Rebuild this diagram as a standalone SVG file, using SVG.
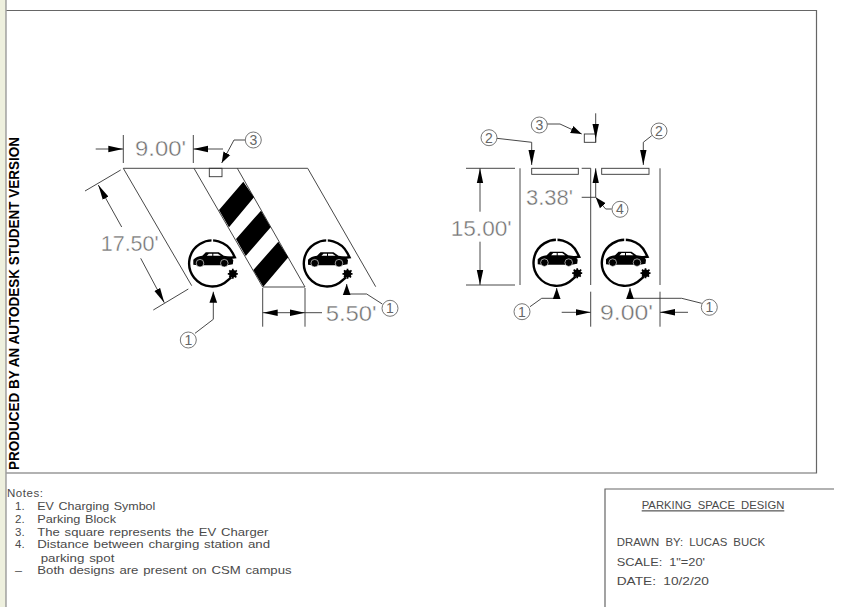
<svg xmlns="http://www.w3.org/2000/svg" width="842" height="607" viewBox="0 0 842 607">
<style>
.l{fill:none;stroke:#333;stroke-width:.9}
.f{fill:none;stroke:#666;stroke-width:1.2}
.a{fill:none;stroke:#333;stroke-width:.9;marker-end:url(#ah)}
.b{fill:none;stroke:#333;stroke-width:.9;marker-end:url(#af)}
.d{fill:none;stroke:#333;stroke-width:.9;marker-start:url(#ah);marker-end:url(#ah)}
.dim{font-family:"Liberation Sans",Arial,sans-serif;font-size:22px;fill:#707070;stroke:#fff;stroke-width:.4}
.n{font-family:"Liberation Sans",Arial,sans-serif;font-size:11.500px;fill:#4a4a4a;word-spacing:1px}
.t{font-family:"Liberation Sans",Arial,sans-serif;font-size:11.500px;fill:#4a4a4a;word-spacing:3px}
.c{fill:#fff;stroke:#666;stroke-width:.9}
.cn{font-family:"Liberation Sans",Arial,sans-serif;font-size:14px;fill:#666;text-anchor:middle}
</style>
<defs>
<marker id="ah" markerUnits="userSpaceOnUse" markerWidth="15" markerHeight="8" refX="14" refY="3" orient="auto-start-reverse" viewBox="0 0 14 6"><path d="M0,0L14,3L0,6Z" fill="#000"/></marker>
<marker id="af" markerUnits="userSpaceOnUse" markerWidth="11" markerHeight="9" refX="10" refY="3.500" orient="auto" viewBox="0 0 10 7"><path d="M0,0L10,3.500L0,7Z" fill="#000"/></marker>
<g id="ev">
<path d="M14,-5L22.500,-6L20.500,-10A23,23 0 1 0 16,16.500L19,14" fill="none" stroke="#000" stroke-width="2.400"/>
<path d="M-0.800,-25h1.600v3.800h-1.600z" fill="#fff"/>
<path d="M-19,1.500L-19,-3.500Q-16,-7 -10,-7.500L-6.500,-11L6.500,-11L11.500,-7.500L18.500,-6.500L21,-3L20.500,1L15,2L-15,2Z" fill="#000"/>
<path d="M-5.500,-7.500L-3.500,-9.600L0,-9.600L0,-7.500ZM1,-7.500L1,-9.600L5.500,-9.600L8.500,-7.500Z" fill="#fff"/>
<circle cx="-12.300" cy="-.1" r="3.800" fill="#000" stroke="#fff" stroke-width=".6"/>
<circle cx="12" cy="-.1" r="3.800" fill="#000" stroke="#fff" stroke-width=".6"/>
<circle cx="20.500" cy="10.500" r="3.800" fill="#000"/>
<path d="M17,7L24,14M24.500,7L17,14M20.500,5.500V15.500M15.500,10.500H25.500" stroke="#000" stroke-width="1.700"/>
</g>
</defs>
<rect width="842" height="607" fill="#fff"/>
<g id="panel">
<rect x="0" y="0" width="6" height="607" fill="#eef0de"/>
<path d="M6,0V607" stroke="#8a8a8a" stroke-width="1.200"/>
</g>
<g id="frame">
<path class="f" d="M6.500,10.500H816.500V473H6.500"/>
<path class="f" d="M834,489H605V607"/>
</g>
<text id="watermark" transform="translate(18.500,470) rotate(-90)" font-family="Liberation Sans,Arial,sans-serif" font-weight="700" font-size="14" fill="#000" textLength="333" lengthAdjust="spacingAndGlyphs">PRODUCED BY AN AUTODESK STUDENT VERSION</text>

<g id="angled-layout">
<path class="l" d="M123.300,168.300H307.700M123.300,168.300L191.700,285.700M194,168.300L262.700,287M237.300,168.300L305,287M307.700,168.300L375.700,286.700M262.700,287H305"/>
<path fill="#000" d="M243.300,181.700L254,197.300L229,227.300L219,210ZM261,210.700L270.700,227.300L245.700,256L236,239ZM278.300,241.700L288.300,257.300L263.300,286.700L253.300,270Z"/>
</g>
<rect id="charger-left" class="l" x="209.300" y="168.300" width="12.700" height="8.400"/>
<use id="ev-left-1" href="#ev" x="212.300" y="263.300"/>
<use id="ev-left-2" href="#ev" x="327" y="263.300"/>

<g id="straight-layout">
<path class="l" d="M520,168.300V285M590.700,168.300V285M660,168.300V285M590.700,291.700V326.700M660,291.700V326.700M466,168.300H515M466,285H515M581.700,168.300H590.700"/>
</g>
<rect id="block-1" class="l" x="531.700" y="168.300" width="46.600" height="6"/>
<rect id="block-2" class="l" x="601.700" y="168.300" width="47.300" height="6"/>
<rect id="charger-right" class="l" x="584.300" y="134" width="11.400" height="8.300"/>
<use id="ev-right-1" href="#ev" x="556.700" y="262.700"/>
<use id="ev-right-2" href="#ev" x="625" y="262.700"/>

<g id="connectors">
<path class="l" d="M123.300,135V163M193.300,135V163M85,191L120.700,170M153.300,310L188.300,289M262.700,288V326.700M305,288V326.700"/>
<path class="a" d="M95.700,149H123.300"/>
<path class="a" d="M223,149H193.300"/>
<path class="a" d="M121.700,227L98.300,185"/>
<path class="a" d="M140.700,258.300L164.300,302.700"/>
<path class="d" d="M262.700,312.700H305"/>
<path class="l" d="M305,312.700H322"/>
<path class="b" d="M245,140H234L221.700,163"/>
<path class="b" d="M195,333.300L213.300,319.300V291.700"/>
<path class="b" d="M382.300,304L366.700,294H346.700V284"/>
<path class="a" d="M480,211.700V168.300"/>
<path class="a" d="M480,241.700V285"/>
<path class="a" d="M561.700,312.300H590.700"/>
<path class="a" d="M688,312.300H660"/>
<path class="a" d="M595.700,197.300V168.300"/>
<path class="l" d="M581.700,197.300H595.700"/>
<path class="a" d="M595.700,113.300V139"/>
<path class="l" d="M595.700,139V142.300"/>
<path class="b" d="M547,124H560L581.700,134"/>
<path class="a" d="M496.700,138.300L531.700,142.300V165"/>
<path class="a" d="M651.700,135.700L643.300,142.300V165"/>
<path class="b" d="M611.700,209H605.700L595.700,197.300"/>
<path class="b" d="M530,306.700L541.700,298.300H556.700V288"/>
<path class="b" d="M701.700,303.300L681.700,298.300H630V288"/>
</g>

<g id="callouts">
<g id="c3a"><circle class="c" cx="253.300" cy="140" r="8"/><text class="cn" x="253.300" y="145">3</text></g>
<g id="c1a"><circle class="c" cx="188.300" cy="340" r="8"/><text class="cn" x="188.300" y="345">1</text></g>
<g id="c1b"><circle class="c" cx="390" cy="308.300" r="8"/><text class="cn" x="390" y="313.300">1</text></g>
<g id="c3b"><circle class="c" cx="539.300" cy="125" r="8"/><text class="cn" x="539.300" y="130">3</text></g>
<g id="c2a"><circle class="c" cx="489" cy="137.700" r="8"/><text class="cn" x="489" y="142.700">2</text></g>
<g id="c2b"><circle class="c" cx="659" cy="131" r="8"/><text class="cn" x="659" y="136">2</text></g>
<g id="c4"><circle class="c" cx="620" cy="209.300" r="8"/><text class="cn" x="620" y="214.300">4</text></g>
<g id="c1c"><circle class="c" cx="522" cy="311.700" r="8"/><text class="cn" x="522" y="316.700">1</text></g>
<g id="c1d"><circle class="c" cx="709.300" cy="307.300" r="8"/><text class="cn" x="709.300" y="312.300">1</text></g>
</g>

<g id="dimensions">
<text class="dim" x="135" y="156" textLength="51" lengthAdjust="spacingAndGlyphs">9.00'</text>
<text class="dim" x="100.700" y="251" textLength="58" lengthAdjust="spacingAndGlyphs">17.50'</text>
<text class="dim" x="325.700" y="320.500" textLength="51" lengthAdjust="spacingAndGlyphs">5.50'</text>
<text class="dim" x="450.700" y="235.500" textLength="61" lengthAdjust="spacingAndGlyphs">15.00'</text>
<text class="dim" x="526" y="204.500" textLength="47" lengthAdjust="spacingAndGlyphs">3.38'</text>
<text class="dim" x="600" y="320" textLength="53" lengthAdjust="spacingAndGlyphs">9.00'</text>
</g>

<g id="notes">
<text class="n" x="7" y="496.700" textLength="36" lengthAdjust="spacing">Notes:</text>
<text class="n" x="15" y="510">1.</text><text class="n" x="37.300" y="510" textLength="118" lengthAdjust="spacingAndGlyphs">EV Charging Symbol</text>
<text class="n" x="15" y="522.700">2.</text><text class="n" x="37.300" y="522.700" textLength="78.700" lengthAdjust="spacingAndGlyphs">Parking Block</text>
<text class="n" x="15" y="535.700">3.</text><text class="n" x="37.300" y="535.700" textLength="231" lengthAdjust="spacingAndGlyphs">The square represents the EV Charger</text>
<text class="n" x="15" y="548.300">4.</text><text class="n" x="37.300" y="548.300" textLength="232.700" lengthAdjust="spacingAndGlyphs">Distance between charging station and</text>
<text class="n" x="40.700" y="561.700" textLength="73.700" lengthAdjust="spacingAndGlyphs">parking spot</text>
<text class="n" x="15" y="574.300" textLength="7" lengthAdjust="spacingAndGlyphs">—</text><text class="n" x="37.300" y="574.300" textLength="254.300" lengthAdjust="spacingAndGlyphs">Both designs are present on CSM campus</text>
</g>

<g id="title-block">
<text class="t" x="641.700" y="509.300" textLength="142.600" lengthAdjust="spacingAndGlyphs" text-decoration="underline">PARKING SPACE DESIGN</text>
<text class="t" x="616.700" y="546" textLength="148.300" lengthAdjust="spacingAndGlyphs">DRAWN BY: LUCAS BUCK</text>
<text class="t" x="616.700" y="565.700" textLength="88.300" lengthAdjust="spacingAndGlyphs">SCALE: 1"=20'</text>
<text class="t" x="616.700" y="585" textLength="92.300" lengthAdjust="spacingAndGlyphs">DATE: 10/2/20</text>
</g>
</svg>
